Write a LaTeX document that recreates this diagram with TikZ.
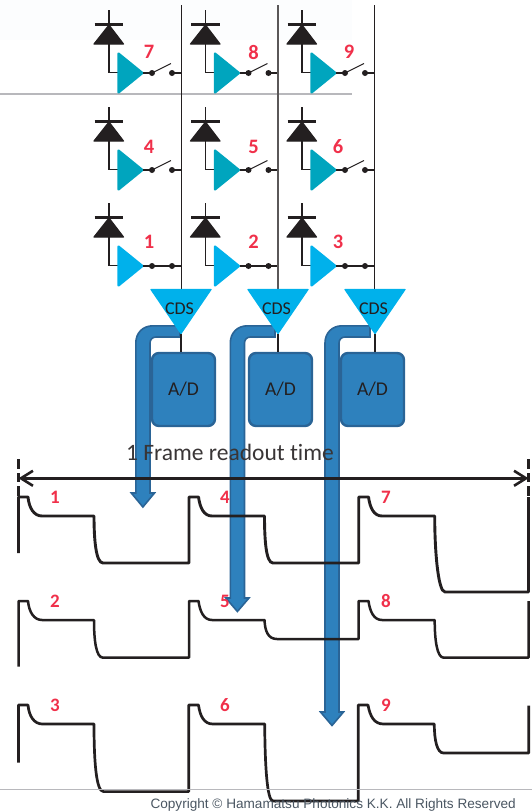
\documentclass[tikz,border=0pt]{standalone}
\usepackage{fontspec}
\setmainfont[Ligatures=CommonOff]{Carlito}
\newfontfamily\copyfont{Liberation Sans}
\usetikzlibrary{arrows.meta}
\definecolor{ink}{HTML}{231F20}
\definecolor{ampteal}{HTML}{00A5BE}
\definecolor{ampsky}{HTML}{00B1EB}
\definecolor{bluefill}{HTML}{2E81BD}
\definecolor{blueedge}{HTML}{2A6496}
\definecolor{numred}{HTML}{F0304A}
\definecolor{rulegray}{HTML}{B8B8BC}
\definecolor{tintband}{HTML}{FCFDFE}
\definecolor{copygray}{HTML}{4A5662}
\tikzset{
  x=1pt,y=-1pt,
  wire/.style={draw=ink,line width=1.5pt},
  wave/.style={draw=ink,line width=2.5pt,line join=round},
  dotmark/.style={circle,fill=ink,inner sep=0pt,minimum size=6pt},
  numlabel/.style={text=numred,font=\bfseries\fontsize{20.5}{20.5}\selectfont,inner sep=0pt},
  wavelabel/.style={text=numred,font=\bfseries\fontsize{19}{19}\selectfont,inner sep=0pt},
  cdsbox/.style={fill=ampsky,draw=ampsky,line width=1.2pt,line join=round},
  adbox/.style={draw=blueedge,fill=bluefill,line width=2.4pt,rounded corners=7pt,minimum width=63pt,minimum height=73pt,inner sep=0pt,text=ink,font=\fontsize{19.5}{19.5}\selectfont},
  pipe/.style={draw=blueedge,fill=bluefill,line width=1.6pt,line join=miter},
  rowrule/.style={draw=rulegray,line width=1.5pt},
  framearrow/.style={draw=ink,line width=2.8pt,{Straight Barb[length=12pt,width=15pt,line width=2.6pt]}-{Straight Barb[length=12pt,width=15pt,line width=2.6pt]}},
  framedash/.style={draw=ink,line width=2.8pt,dash pattern=on 10pt off 4pt on 9pt off 4pt on 10pt},
}
% pixel cell: #1 x-offset, #2 y-offset, #3 amp colour, #4 name, #5 closed flag
\newcommand{\pixelcell}[5]{%
  \begin{scope}[shift={(#1,#2)}]
    \draw[wire] (109,10) -- (109,72.5) -- (118,72.5);
    \draw[ink,line width=2.2pt] (94.5,24.5) -- (123,24.5);
    \fill[ink,draw=ink,line width=1.2pt,line join=round] (109,25) -- (123.5,44) -- (94,44) -- cycle;
    \fill[#3,draw=#3,line width=2.2pt,line join=round] (118.5,53.5) -- (142.5,73) -- (118.5,92.5) -- cycle;
    \node[dotmark] (#4a) at (152,73) {};
    \node[dotmark] (#4b) at (172,73) {};
    \draw[wire] (143,73) -- (#4a.center);
    \draw[wire] (#4b.center) -- (181.5,73);
    \ifnum#5=1
      \draw[draw=ink,line width=1.1pt] (#4a.center) -- (#4b.center);
    \else
      \draw[draw=ink,line width=1.1pt] (#4a.center) -- (171,63.5);
    \fi
  \end{scope}%
}
% #1 left, #2 right, #3 end x, #4 head y, #5 tip y
\newcommand{\bluepipe}[5]{%
  \path[pipe] (#3,325.8) -- ({#1+17},325.8) .. controls ({#1+7},325.8) and (#1,333) .. (#1,343) -- (#1,#4) -- ({#1-4.5},#4)
    -- ({(#1+#2)/2},#5) -- ({#2+4.5},#4) -- (#2,#4) -- (#2,343) .. controls (#2,339.5) and ({#2+2.5},337) .. ({#2+6},337) -- (#3,337) -- cycle;%
}
\begin{document}
\begin{tikzpicture}
\useasboundingbox (0,0) rectangle (532,812);
\fill[tintband] (0,0) rectangle (352,40);

% horizontal rules
\coordinate (ruleAl) at (0,94.2);
\coordinate (ruleAr) at (352,94.2);
\draw[rowrule] (ruleAl) -- (ruleAr);

% pixel array
\pixelcell{0}{0}{ampteal}{p7}{0}
\pixelcell{96.5}{0}{ampteal}{p8}{0}
\pixelcell{193}{0}{ampteal}{p9}{0}
\pixelcell{0}{97}{ampteal}{p4}{0}
\pixelcell{96.5}{97}{ampteal}{p5}{0}
\pixelcell{193}{97}{ampteal}{p6}{0}
\pixelcell{0}{193}{ampsky}{p1}{1}
\pixelcell{96.5}{193}{ampsky}{p2}{1}
\pixelcell{193}{193}{ampsky}{p3}{1}

% blue pipes
\bluepipe{135.8}{150}{180}{493}{507}
\bluepipe{230.3}{244.5}{275}{598}{611.5}
\bluepipe{325}{339}{370}{712}{725.5}

% columns
\coordinate (colA) at (181.5,5);
\coordinate (colB) at (278,5);
\coordinate (colC) at (374.5,5);
\coordinate (cdsAtop) at (181.5,290);
\coordinate (cdsBtop) at (278,290);
\coordinate (cdsCtop) at (374.5,290);
\draw[wire] (colA) -- (cdsAtop);
\draw[wire,draw=ink!75] (colB) -- (cdsBtop);
\draw[wire] (colC) -- (cdsCtop);

% A/D blocks
\node[adbox] (adA) at (183.5,389.5) {A/D};
\node[adbox] (adB) at (280.5,389.5) {A/D};
\node[adbox] (adC) at (372.5,389.5) {A/D};

% CDS
\foreach \cx/\nm in {181/A,278/B,375/C}{
  \path[cdsbox] ({\cx-30},289.5) -- ({\cx+30},289.5) -- (\cx,333.5) -- cycle;
  \coordinate (apex\nm) at (\cx,334);
  \node[text=ink,font=\fontsize{18}{18}\selectfont,inner sep=0pt] (cds\nm) at ({\cx-1.5},308.5) {CDS};
}
\draw[wire,line width=1.7pt] (apexA) -- (adA.north -| apexA);
\draw[wire,line width=1.7pt] (apexB) -- (adB.north -| apexB);
\draw[wire,line width=1.7pt] (apexC) -- (adC.north -| apexC);

% pixel numbers
\node[numlabel] (n7) at (149,52) {7};
\node[numlabel] (n8) at (253.5,52) {8};
\node[numlabel] (n9) at (349,52) {9};
\node[numlabel] (n4) at (149,147) {4};
\node[numlabel] (n5) at (253.5,147) {5};
\node[numlabel] (n6) at (338,147) {6};
\node[numlabel] (n1) at (149,241.5) {1};
\node[numlabel] (n2) at (253.5,241.5) {2};
\node[numlabel] (n3) at (338,241.5) {3};

% frame arrow
\node[text=ink!90,font=\fontsize{23.5}{23.5}\selectfont,inner sep=0pt] (frame) at (230,452) {1 Frame readout time};
\coordinate (frameL) at (18.5,478.3);
\coordinate (frameR) at (528.5,478.3);
\coordinate (dashLt) at (18.5,459);
\coordinate (dashLb) at (18.5,496);
\coordinate (dashRt) at (528.5,459);
\coordinate (dashRb) at (528.5,496);
\draw[framedash] (dashLt) -- (dashLb);
\draw[framedash] (dashRt) -- (dashRb);
\draw[framearrow] (frameL) -- (frameR);

% waveforms row 1
\draw[wave,line width=2.9pt] (18.5,553) -- (18.5,497) -- (28,497) .. controls (29,508) and (34,516) .. (42,516)
  -- (94,516) .. controls (94,540) and (96,563) .. (103,563) -- (189,563) -- (189,497) -- (198.5,497)
  .. controls (200,508) and (204,516) .. (212,516) -- (264.5,516) .. controls (264.5,540) and (266,563) .. (273,563)
  -- (358.7,563) -- (358.7,497) -- (368.5,497) .. controls (370,508) and (374,516) .. (382,516)
  -- (434.7,516) .. controls (434.7,550) and (438,592) .. (445,592) -- (528.5,592) -- (528.5,497);
% row 2
\draw[wave] (18.5,666.7) -- (18.5,601) -- (28,601) .. controls (29,612) and (34,620) .. (42,620)
  -- (94,620) .. controls (94,640) and (96,657.7) .. (103,657.7) -- (189,657.7) -- (189,601) -- (198.5,601)
  .. controls (200,612) and (204,620) .. (212,620) -- (264.5,620) .. controls (265,631) and (268,639) .. (277,639)
  -- (358.7,639) -- (358.7,601) -- (368.5,601) .. controls (370,612) and (374,620) .. (382,620)
  -- (434.7,620) .. controls (434.7,640) and (437,657.7) .. (443.7,657.7) -- (528.5,657.7) -- (528.5,601);
% row 3
\draw[wave,line width=2.7pt] (18.5,762.5) -- (18.5,705) -- (28,705) .. controls (29,716) and (34,724) .. (42.4,724)
  -- (94,724) .. controls (94,760) and (96,791.6) .. (103.5,791.6) -- (188.7,791.6) -- (188.7,705) -- (198.5,705)
  .. controls (200,716) and (204,724) .. (212.8,724) -- (264.7,724) .. controls (265,765) and (267,801) .. (273,801)
  -- (358.3,801) -- (358.3,705) -- (368,705) .. controls (370,716) and (374,724) .. (383.4,724)
  -- (434.3,724) .. controls (434.3,740) and (437,753) .. (443.5,753) -- (528.7,753) -- (528.7,705.5);

% waveform numbers
\node[wavelabel] (w1) at (55,497) {1};
\node[wavelabel] (w4) at (225,497) {4};
\node[wavelabel] (w7) at (386,497) {7};
\node[wavelabel] (w2) at (55,601) {2};
\node[wavelabel] (w5) at (225,601) {5};
\node[wavelabel] (w8) at (386,601) {8};
\node[wavelabel] (w3) at (55,705) {3};
\node[wavelabel] (w6) at (225,705) {6};
\node[wavelabel] (w9) at (386,705) {9};

% bottom rule and copyright
\coordinate (ruleBl) at (0,789.6);
\coordinate (ruleBr) at (532,789.6);
\draw[rowrule] (ruleBl) -- (ruleBr);
\node[inner sep=0pt,anchor=east,text=copygray,font=\copyfont\fontsize{13.6}{13.6}\selectfont] (copy) at (516,804.5) {Copyright © Hamamatsu Photonics K.K. All Rights Reserved};
\end{tikzpicture}
\end{document}
